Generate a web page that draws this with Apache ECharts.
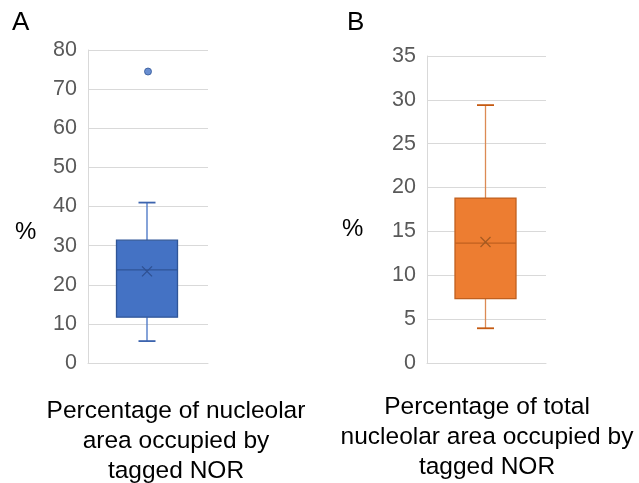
<!DOCTYPE html>
<html>
<head>
<meta charset="utf-8">
<script src="https://cdn.jsdelivr.net/npm/echarts@6/dist/echarts.min.js"></script>
<style>html,body{margin:0;padding:0;background:#fff}#c{width:639px;height:483px}</style>
</head>
<body>
<div id="c"></div>
<script>
// Panel A: [min whisker, Q1, median, Q3, max whisker], mean, outliers
const categoriesA = ['A'];
const boxA = [5.6, 11.7, 23.8, 31.4, 41.0];
const meanA = 23.4;
const outliersA = [74.5];
const ticksA = [0, 10, 20, 30, 40, 50, 60, 70, 80];

// Panel B
const categoriesB = ['B'];
const boxB = [3.96, 7.35, 13.66, 18.8, 29.4];
const meanB = 13.8;
const outliersB = [];
const ticksB = [0, 5, 10, 15, 20, 25, 30, 35];

const titleA = ['Percentage of nucleolar', 'area occupied by', 'tagged NOR'];
const titleB = ['Percentage of total', 'nucleolar area occupied by', 'tagged NOR'];

const FONT = '"Liberation Sans", Arial, sans-serif';

function boxRender(colors) {
  return function (params, api) {
    const x = api.value(0);
    const v = [api.value(1), api.value(2), api.value(3), api.value(4), api.value(5), api.value(6)];
    const pMin = api.coord([x, v[0]]);
    const pQ1 = api.coord([x, v[1]]);
    const pMed = api.coord([x, v[2]]);
    const pQ3 = api.coord([x, v[3]]);
    const pMax = api.coord([x, v[4]]);
    const pMean = api.coord([x, v[5]]);
    const cx = pMed[0] - 1;
    const bw = 61, cw = 17, mk = 5;
    return {
      type: 'group',
      children: [
        { type: 'line', shape: { x1: cx, y1: pQ3[1], x2: cx, y2: pMax[1] }, style: { stroke: colors.whisker, lineWidth: 1.3 } },
        { type: 'line', shape: { x1: cx, y1: pQ1[1], x2: cx, y2: pMin[1] }, style: { stroke: colors.whisker, lineWidth: 1.3 } },
        { type: 'line', shape: { x1: cx - cw / 2, y1: pMax[1], x2: cx + cw / 2, y2: pMax[1] }, style: { stroke: colors.cap, lineWidth: 1.8 } },
        { type: 'line', shape: { x1: cx - cw / 2, y1: pMin[1], x2: cx + cw / 2, y2: pMin[1] }, style: { stroke: colors.cap, lineWidth: 1.8 } },
        { type: 'rect', shape: { x: cx - bw / 2, y: pQ3[1], width: bw, height: pQ1[1] - pQ3[1] }, style: { fill: colors.fill, stroke: colors.border, lineWidth: 1.3 } },
        { type: 'line', shape: { x1: cx - bw / 2, y1: pMed[1], x2: cx + bw / 2, y2: pMed[1] }, style: { stroke: colors.border, lineWidth: 1.3 } },
        { type: 'line', shape: { x1: cx - mk, y1: pMean[1] - mk, x2: cx + mk, y2: pMean[1] + mk }, style: { stroke: colors.mean, lineWidth: 1.2 } },
        { type: 'line', shape: { x1: cx - mk, y1: pMean[1] + mk, x2: cx + mk, y2: pMean[1] - mk }, style: { stroke: colors.mean, lineWidth: 1.2 } }
      ]
    };
  };
}

function yAxis(idx, ticks) {
  return {
    type: 'value', gridIndex: idx, min: ticks[0], max: ticks[ticks.length - 1],
    interval: ticks[1] - ticks[0],
    axisLine: { show: true, lineStyle: { color: '#D9D9D9', width: 1 } },
    axisTick: { show: false },
    axisLabel: { color: '#595959', fontSize: 21.5, fontFamily: FONT, margin: 11 },
    splitLine: { show: true, lineStyle: { color: '#D9D9D9', width: 1 } }
  };
}
function xAxis(idx, cats) {
  return {
    type: 'category', gridIndex: idx, data: cats,
    axisLine: { show: true, lineStyle: { color: '#D9D9D9' } },
    axisTick: { show: false }, axisLabel: { show: false }
  };
}

const option = {
  animation: false,
  backgroundColor: '#fff',
  grid: [
    { left: 88, top: 50, width: 120, height: 313 },
    { left: 427, top: 56, width: 119, height: 307 }
  ],
  xAxis: [xAxis(0, categoriesA), xAxis(1, categoriesB)],
  yAxis: [yAxis(0, ticksA), yAxis(1, ticksB)],
  graphic: [
    { type: 'text', left: 12, top: 10, style: { text: 'A', fontSize: 26, fontFamily: FONT, fill: '#000' } },
    { type: 'text', left: 347, top: 10, style: { text: 'B', fontSize: 26, fontFamily: FONT, fill: '#000' } },
    { type: 'text', left: 15, top: 220, style: { text: '%', fontSize: 24, fontFamily: FONT, fill: '#000' } },
    { type: 'text', left: 342, top: 217, style: { text: '%', fontSize: 24, fontFamily: FONT, fill: '#000' } },
    { type: 'text', x: 176, y: 396, style: { text: titleA.join('\n'), fontSize: 24.5, lineHeight: 30, fontFamily: FONT, fill: '#000', align: 'center', textAlign: 'center' } },
    { type: 'text', x: 487, y: 392, style: { text: titleB.join('\n'), fontSize: 24.5, lineHeight: 30, fontFamily: FONT, fill: '#000', align: 'center', textAlign: 'center' } }
  ],
  series: [
    {
      type: 'custom', xAxisIndex: 0, yAxisIndex: 0,
      renderItem: boxRender({ fill: '#4472C4', border: '#2F5597', whisker: '#4472C4', cap: '#3C64AE', mean: '#2F5091' }),
      data: [[0].concat(boxA, [meanA])],
      encode: { x: 0, y: [1, 2, 3, 4, 5, 6] }
    },
    {
      type: 'scatter', xAxisIndex: 0, yAxisIndex: 0, symbol: 'circle', symbolSize: 7,
      itemStyle: { color: '#4472C4', borderColor: '#2F5597', borderWidth: 1 },
      data: outliersA.map(v => [0, v])
    },
    {
      type: 'custom', xAxisIndex: 1, yAxisIndex: 1,
      renderItem: boxRender({ fill: '#ED7D31', border: '#C0601F', whisker: '#DC8A54', cap: '#C55A11', mean: '#A45A22' }),
      data: [[0].concat(boxB, [meanB])],
      encode: { x: 0, y: [1, 2, 3, 4, 5, 6] }
    },
    {
      type: 'scatter', xAxisIndex: 1, yAxisIndex: 1, symbol: 'circle', symbolSize: 7,
      itemStyle: { color: '#ED7D31' },
      data: outliersB.map(v => [0, v])
    }
  ]
};

const chart = echarts.init(document.getElementById('c'), null, { renderer: 'canvas' });
chart.setOption(option);
</script>
</body>
</html>
